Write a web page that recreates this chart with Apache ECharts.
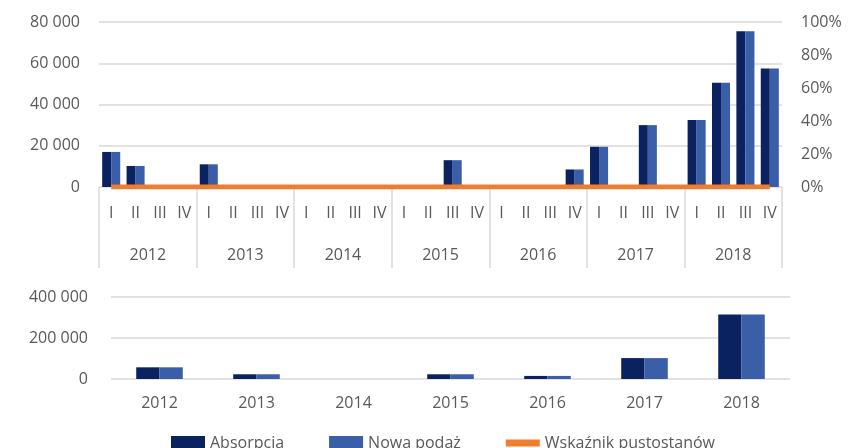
<!DOCTYPE html>
<html>
<head>
<meta charset="utf-8">
<script src="https://cdn.jsdelivr.net/npm/echarts@6/dist/echarts.min.js"></script>
<style>
  html, body { margin: 0; padding: 0; background: #fff; }
  #chart { width: 850px; height: 448px; }
</style>
</head>
<body>
<div id="chart"></div>
<script>
// quarterly data (top chart)
const years = ['2012', '2013', '2014', '2015', '2016', '2017', '2018'];
const quarterNames = ['I', 'II', 'III', 'IV'];
const absorpcjaQ = [
  17000, 10200, 0, 0,
  11000, 0, 0, 0,
  0, 0, 0, 0,
  0, 0, 13000, 0,
  0, 0, 0, 8500,
  19500, 0, 30000, 0,
  32500, 50500, 75500, 57500
];
const podazQ = [
  17000, 10200, 0, 0,
  11000, 0, 0, 0,
  0, 0, 0, 0,
  0, 0, 13000, 0,
  0, 0, 0, 8500,
  19500, 0, 30000, 0,
  32500, 50500, 75500, 57500
];
const pustostanyQ = [
  0, 0, 0, 0, 0, 0, 0, 0, 0, 0, 0, 0, 0, 0,
  0, 0, 0, 0, 0, 0, 0, 0, 0, 0, 0, 0, 0, 0
];

// annual data (bottom chart)
const absorpcjaY = [57000, 23000, 0, 23000, 15000, 102000, 315000];
const podazY = [57000, 23000, 0, 23000, 15000, 102000, 315000];

const quarters = [];
years.forEach((y) => quarterNames.forEach((q) => quarters.push(q + ' ' + y)));

const DARK = '#0b2260';
const BLUE = '#3a5ea8';
const ORANGE = '#ed7d31';
const TEXT = '#595959';
const GRID = '#d9d9d9';
const FONT = '"Open Sans", sans-serif';

const fmtThousands = (v) => String(v).replace(/\B(?=(\d{3})+(?!\d))/g, ' ');

const chart = echarts.init(document.getElementById('chart'), null, { renderer: 'canvas' });

const option = {
  animation: false,
  textStyle: { fontFamily: FONT },
  grid: [
    { left: 99, right: 68, top: 22, height: 165 },
    { left: 111, right: 60, top: 297, height: 82 }
  ],
  legend: {
    bottom: -8,
    left: 166,
    itemWidth: 34,
    itemHeight: 14,
    itemGap: 45,
    textStyle: { color: TEXT, fontSize: 16, fontFamily: FONT },
    data: [
      { name: 'Absorpcja', icon: 'rect' },
      { name: 'Nowa podaż', icon: 'rect' },
      { name: 'Wskaźnik pustostanów', icon: 'path://M0,0 L10,0 L10,2 L0,2 Z' }
    ]
  },
  xAxis: [
    {
      type: 'category',
      gridIndex: 0,
      data: quarters,
      axisLine: { show: false },
      axisTick: { show: false },
      axisLabel: {
        interval: 0,
        color: TEXT,
        fontSize: 16,
        margin: 18,
        formatter: (v) => v.split(' ')[0]
      }
    },
    {
      type: 'category',
      gridIndex: 0,
      position: 'bottom',
      data: years,
      axisLine: { show: false },
      axisTick: { show: true, length: 81, lineStyle: { color: GRID, width: 1.5 } },
      axisLabel: { color: TEXT, fontSize: 16, margin: 60 }
    },
    {
      type: 'category',
      gridIndex: 1,
      data: years,
      axisLine: { show: false },
      axisTick: { show: false },
      axisLabel: { color: TEXT, fontSize: 16, margin: 16 }
    }
  ],
  yAxis: [
    {
      type: 'value',
      gridIndex: 0,
      min: 0,
      max: 80000,
      interval: 20000,
      axisLine: { show: false },
      axisTick: { show: false },
      splitLine: { lineStyle: { color: GRID, width: 1.5 } },
      axisLabel: { color: TEXT, fontSize: 16, margin: 19, formatter: fmtThousands }
    },
    {
      type: 'value',
      gridIndex: 0,
      position: 'right',
      min: 0,
      max: 1,
      interval: 0.2,
      axisLine: { show: false },
      axisTick: { show: false },
      splitLine: { show: false },
      axisLabel: {
        color: TEXT,
        fontSize: 16,
        margin: 19,
        formatter: (v) => Math.round(v * 100) + '%'
      }
    },
    {
      type: 'value',
      gridIndex: 1,
      min: 0,
      max: 400000,
      interval: 200000,
      axisLine: { show: false },
      axisTick: { show: false },
      splitLine: { lineStyle: { color: GRID, width: 1.5 } },
      axisLabel: { color: TEXT, fontSize: 16, margin: 23, formatter: fmtThousands }
    }
  ],
  series: [
    {
      name: 'Absorpcja',
      type: 'bar',
      xAxisIndex: 0,
      yAxisIndex: 0,
      data: absorpcjaQ,
      barGap: '0%',
      barCategoryGap: '26%',
      itemStyle: { color: DARK }
    },
    {
      name: 'Nowa podaż',
      type: 'bar',
      xAxisIndex: 0,
      yAxisIndex: 0,
      data: podazQ,
      barGap: '0%',
      barCategoryGap: '26%',
      itemStyle: { color: BLUE }
    },
    {
      name: 'Wskaźnik pustostanów',
      type: 'line',
      xAxisIndex: 0,
      yAxisIndex: 1,
      data: pustostanyQ,
      symbol: 'none',
      z: 5,
      itemStyle: { color: ORANGE },
      lineStyle: { color: ORANGE, width: 5 }
    },
    {
      name: 'Absorpcja',
      type: 'bar',
      xAxisIndex: 2,
      yAxisIndex: 2,
      data: absorpcjaY,
      barGap: '0%',
      barCategoryGap: '52%',
      itemStyle: { color: DARK }
    },
    {
      name: 'Nowa podaż',
      type: 'bar',
      xAxisIndex: 2,
      yAxisIndex: 2,
      data: podazY,
      barGap: '0%',
      barCategoryGap: '52%',
      itemStyle: { color: BLUE }
    }
  ]
};

chart.setOption(option);
</script>
</body>
</html>
